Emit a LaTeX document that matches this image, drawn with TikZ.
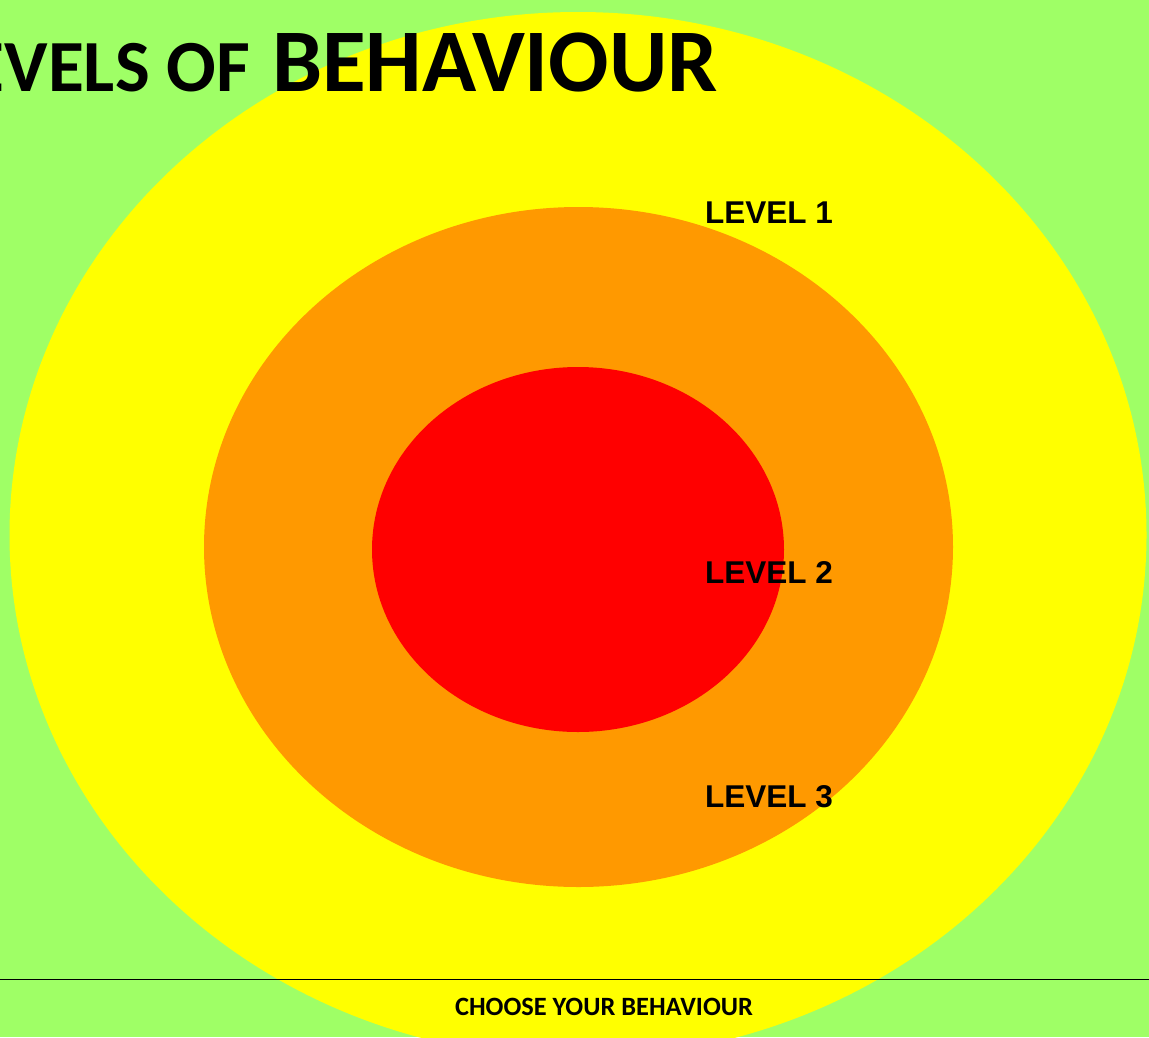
\documentclass[tikz,border=0pt]{standalone}
\usepackage{fontspec}
\newfontfamily\calibfont{Carlito}
\newfontfamily\arialfont{Liberation Sans}
\definecolor{bggreen}{HTML}{9FFF66}
\definecolor{ringyellow}{HTML}{FFFF00}
\definecolor{ringorange}{HTML}{FF9900}
\definecolor{ringred}{HTML}{FF0000}
\tikzset{
  ring/.style={draw=none},
  levellabel/.style={anchor=base west, inner sep=0pt,
    font=\arialfont\bfseries\fontsize{31.5}{31.5}\selectfont},
  titlepart/.style={inner sep=0pt, font=\calibfont\bfseries},
}
\begin{document}
\begin{tikzpicture}[x=1pt,y=-1pt]
  \useasboundingbox (0,0) rectangle (1149,1037);
  \clip (0,0) rectangle (1149,1037);
  \fill[bggreen] (0,0) rectangle (1149,1037);
  % concentric behaviour zones
  \fill[ringyellow, ring] (578,535) ellipse [x radius=568.5, y radius=523];
  \fill[ringorange, ring] (578.5,547) ellipse [x radius=374.5, y radius=340];
  \fill[ringred, ring] (578,549.5) ellipse [x radius=206, y radius=182.5];
  % heading, running off the left edge
  \node[titlepart, anchor=base east] (titleA) at (250,91)
    {\fontsize{73.5}{73.5}\selectfont LEVELS OF};
  \node[titlepart, anchor=base west] (titleB) at (272,91)
    {\fontsize{89.4}{89.4}\selectfont BEHAVIOUR};
  % zone labels
  \node[levellabel] (lvl1) at (705,223) {LEVEL 1};
  \node[levellabel] (lvl2) at (705,583) {LEVEL 2};
  \node[levellabel] (lvl3) at (705,807) {LEVEL 3};
  % footer rule and caption
  \coordinate (ruleL) at (0,979.5);
  \coordinate (ruleR) at (1149,979.5);
  \draw[black, line width=1.4pt] (ruleL) -- (ruleR);
  \node[titlepart, anchor=base] (footer) at (604,1015)
    {\fontsize{26.4}{26.4}\selectfont CHOOSE YOUR BEHAVIOUR};
\end{tikzpicture}
\end{document}
